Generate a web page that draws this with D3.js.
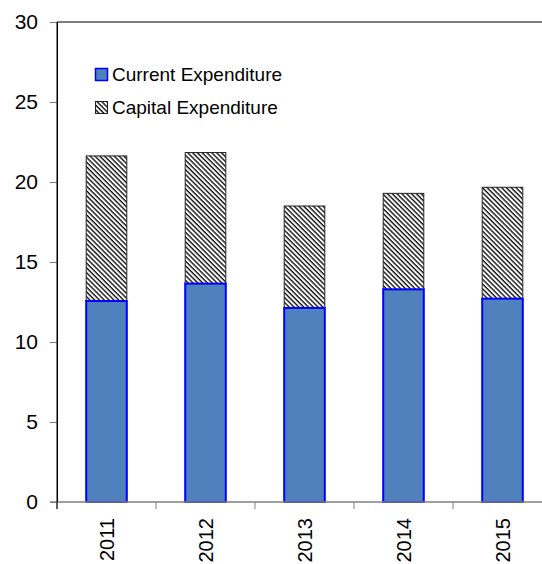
<!DOCTYPE html>
<html>
<head>
<meta charset="utf-8">
<script src="https://cdn.jsdelivr.net/npm/d3@7"></script>
<style>
  body { margin: 0; background: #fff; }
  text { font-family: Arial, "Liberation Sans", sans-serif; fill: #000; }
</style>
</head>
<body>
<div id="chart"></div>
<script>
const years = ['2011', '2012', '2013', '2014', '2015'];
const currentExp = [12.56, 13.65, 12.13, 13.29, 12.71];
const capitalExp = [9.07, 8.19, 6.37, 6.00, 6.96];
const yTicks = [0, 5, 10, 15, 20, 25, 30];
const seriesNames = ['Current Expenditure', 'Capital Expenditure'];

const w = 542;
const h = 564;
const padLeft = 57;
const padTop = 22;
const padBottom = 502;

const svg = d3.select('#chart')
    .append('svg')
    .attr('width', w)
    .attr('height', h);

// hatch pattern for capital expenditure
const defs = svg.append('defs');
defs.append('pattern')
    .attr('id', 'hatch')
    .attr('patternUnits', 'userSpaceOnUse')
    .attr('width', 3.4)
    .attr('height', 3.4)
    .attr('patternTransform', 'rotate(-45)')
    .call(p => {
        p.append('rect').attr('width', 3.4).attr('height', 3.4).attr('fill', '#fff');
        p.append('line')
            .attr('x1', 1).attr('y1', 0).attr('x2', 1).attr('y2', 3.4)
            .attr('stroke', '#000').attr('stroke-width', 1.3);
    });

const xScale = d3.scaleBand()
    .domain(years)
    .range([padLeft, padLeft + 99 * years.length]);

const yScale = d3.scaleLinear()
    .domain([0, 30])
    .range([padBottom, padTop]);

const barW = xScale.bandwidth() * 0.41;
const barX = d => xScale(d) + (xScale.bandwidth() - barW) / 2;

// top frame line
svg.append('line')
    .attr('x1', padLeft).attr('x2', w)
    .attr('y1', yScale(30)).attr('y2', yScale(30))
    .attr('stroke', '#000').attr('stroke-width', 1);

// bars
const data = years.map((y, i) => ({ year: y, cur: currentExp[i], cap: capitalExp[i] }));

svg.selectAll('rect.cap')
    .data(data)
    .enter()
    .append('rect')
    .attr('class', 'cap')
    .attr('x', d => barX(d.year))
    .attr('y', d => yScale(d.cur + d.cap))
    .attr('width', barW)
    .attr('height', d => yScale(d.cur) - yScale(d.cur + d.cap))
    .attr('fill', 'url(#hatch)')
    .attr('stroke', '#222')
    .attr('stroke-width', 1);

svg.selectAll('rect.cur')
    .data(data)
    .enter()
    .append('rect')
    .attr('class', 'cur')
    .attr('x', d => barX(d.year))
    .attr('y', d => yScale(d.cur))
    .attr('width', barW)
    .attr('height', d => yScale(0) - yScale(d.cur))
    .attr('fill', '#4F81BD')
    .attr('stroke', '#0000FF')
    .attr('stroke-width', 2);

// y axis
const yAxis = d3.axisLeft(yScale)
    .tickValues(yTicks)
    .tickSize(7)
    .tickPadding(12);

const gy = svg.append('g')
    .attr('transform', 'translate(' + padLeft + ',0)')
    .call(yAxis);
gy.select('.domain').attr('stroke', '#000');
gy.selectAll('.tick line').attr('stroke', '#808080');
gy.selectAll('.tick text')
    .style('font-size', '21px')
    .style('font-family', 'Arial, "Liberation Sans", sans-serif');

// x axis
const xAxis = d3.axisBottom(xScale).tickSize(0).tickPadding(0);
const gx = svg.append('g')
    .attr('transform', 'translate(0,' + padBottom + ')')
    .call(xAxis);
gx.select('.domain').remove();
gx.selectAll('.tick text')
    .attr('transform', 'translate(0,16) rotate(-90)')
    .attr('dy', '0.35em')
    .attr('text-anchor', 'end')
    .attr('y', 0)
    .style('font-size', '20px')
    .style('font-family', 'Arial, "Liberation Sans", sans-serif');

svg.append('line')
    .attr('x1', padLeft - 7).attr('x2', w)
    .attr('y1', padBottom).attr('y2', padBottom)
    .attr('stroke', '#808080').attr('stroke-width', 1.5);

svg.selectAll('line.xtick')
    .data(years.concat(['end']))
    .enter()
    .append('line')
    .attr('class', 'xtick')
    .attr('x1', (d, i) => i < years.length ? xScale(d) : xScale.range()[1])
    .attr('x2', (d, i) => i < years.length ? xScale(d) : xScale.range()[1])
    .attr('y1', padBottom).attr('y2', padBottom + 7)
    .attr('stroke', '#808080');

// left axis line on top of everything
svg.append('line')
    .attr('x1', padLeft).attr('x2', padLeft)
    .attr('y1', yScale(30)).attr('y2', padBottom + 7)
    .attr('stroke', '#000');

// legend
const legend = svg.append('g').attr('transform', 'translate(95,68)');
seriesNames.forEach((name, i) => {
    const g = legend.append('g').attr('transform', 'translate(0,' + (i * 33) + ')');
    g.append('rect')
        .attr('x', 0.5).attr('y', 0.5)
        .attr('width', 12).attr('height', 12)
        .attr('fill', i === 0 ? '#4F81BD' : 'url(#hatch)')
        .attr('stroke', i === 0 ? '#0000FF' : '#222')
        .attr('stroke-width', i === 0 ? 1.5 : 1);
    g.append('text')
        .attr('x', 17)
        .attr('y', 13)
        .style('font-size', '19px')
        .text(name);
});
</script>
</body>
</html>
